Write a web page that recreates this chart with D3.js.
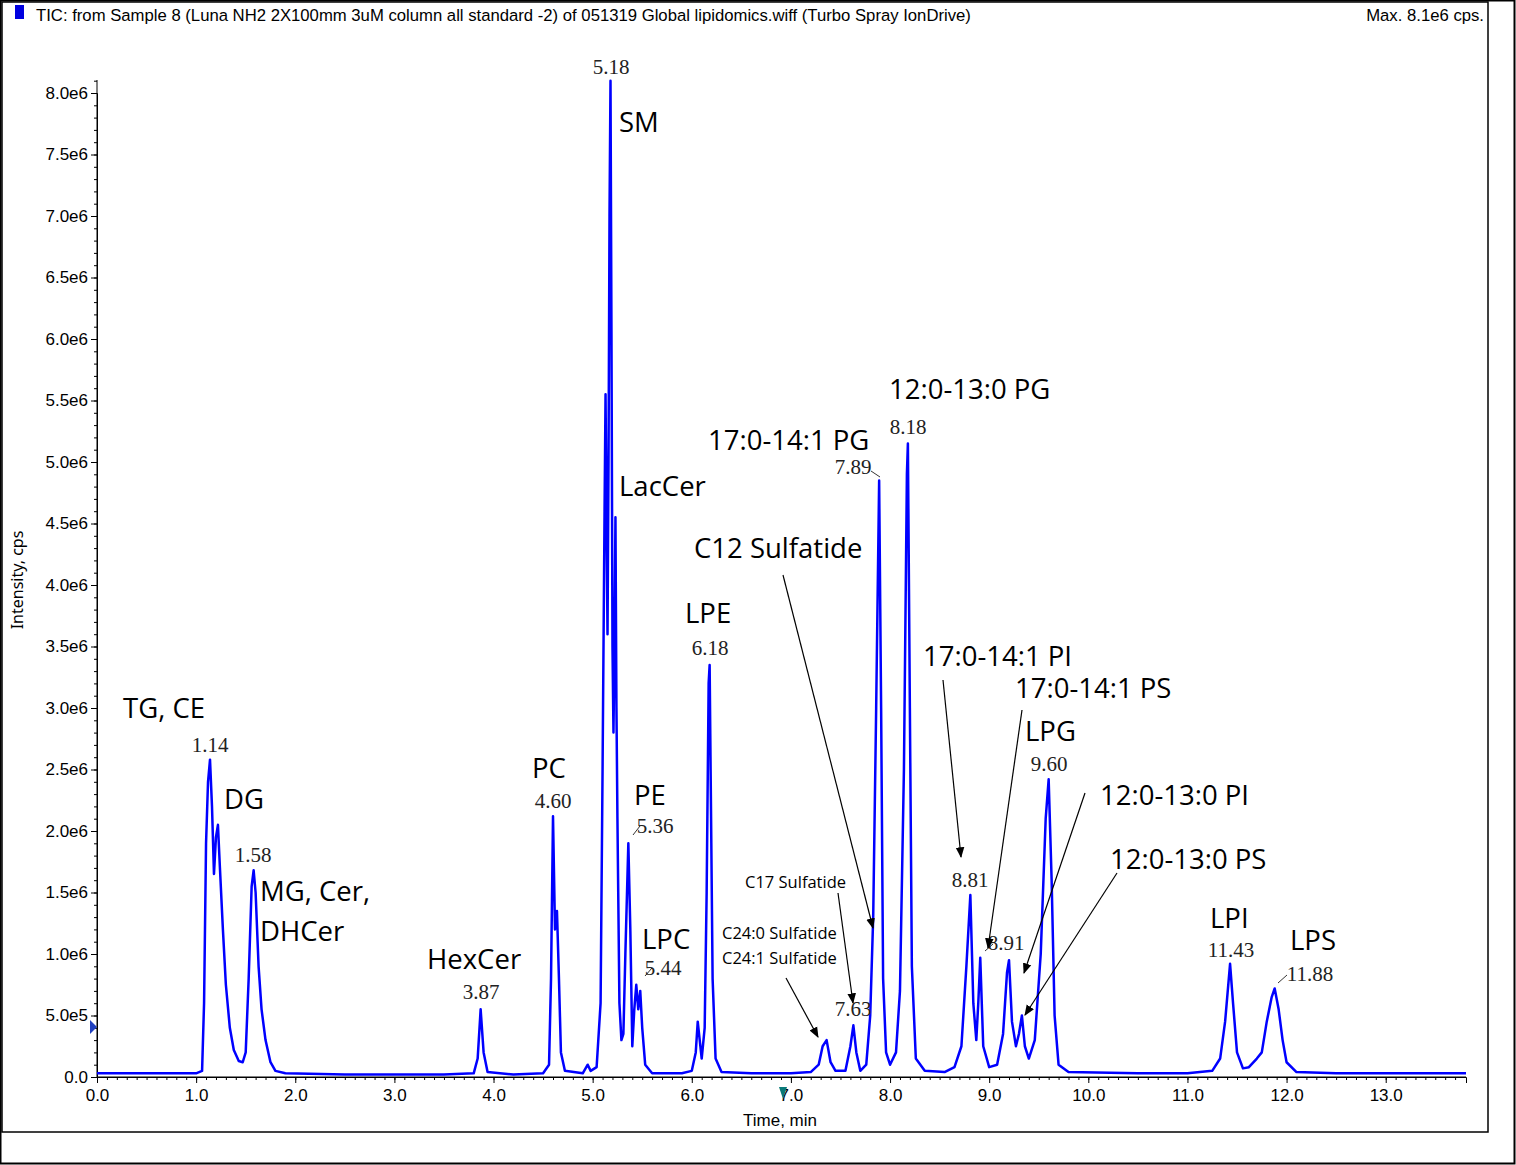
<!DOCTYPE html><html><head><meta charset="utf-8">
<script src="https://cdn.jsdelivr.net/npm/d3@7"></script>
<style>body{margin:0;background:#fff}svg{display:block}</style></head><body>
<script>
const times=[0.0,0.5,1.0,1.06,1.08,1.10,1.12,1.14,1.16,1.18,1.20,1.22,1.24,1.27,1.30,1.34,1.38,1.43,1.47,1.50,1.53,1.56,1.58,1.60,1.63,1.66,1.70,1.75,1.80,1.9,2.5,3.0,3.5,3.80,3.84,3.87,3.90,3.94,4.2,4.5,4.56,4.58,4.60,4.62,4.64,4.66,4.68,4.72,4.9,4.95,4.98,5.04,5.08,5.10,5.12,5.13,5.14,5.15,5.16,5.17,5.18,5.19,5.20,5.21,5.22,5.23,5.24,5.25,5.27,5.29,5.31,5.33,5.36,5.38,5.40,5.42,5.44,5.46,5.48,5.50,5.53,5.6,5.9,6.0,6.04,6.06,6.08,6.10,6.13,6.15,6.17,6.18,6.19,6.21,6.24,6.30,6.6,7.0,7.2,7.28,7.32,7.36,7.40,7.45,7.55,7.60,7.63,7.66,7.70,7.76,7.80,7.83,7.86,7.89,7.91,7.93,7.96,8.00,8.06,8.10,8.14,8.17,8.18,8.20,8.22,8.26,8.35,8.55,8.65,8.72,8.77,8.81,8.84,8.87,8.89,8.91,8.94,9.00,9.08,9.14,9.18,9.20,9.23,9.27,9.30,9.33,9.36,9.40,9.46,9.52,9.57,9.60,9.63,9.66,9.70,9.80,10.5,11.0,11.25,11.33,11.38,11.43,11.46,11.50,11.56,11.62,11.70,11.75,11.80,11.85,11.88,11.92,11.96,12.00,12.10,12.5,13.0,13.81];
const intensity=[.03,.03,.03,.05,.6,1.9,2.4,2.58,2.2,1.65,1.95,2.05,1.7,1.2,.75,.4,.22,.13,.12,.2,.8,1.55,1.68,1.5,.9,.55,.3,.12,.05,.03,.02,.02,.02,.03,.15,.55,.2,.04,.02,.03,.1,.8,2.12,1.2,1.35,.8,.2,.05,.03,.1,.05,.08,.6,2.5,4.6,5.55,4.5,3.6,5.0,7.0,8.1,6.0,3.5,2.8,3.5,4.55,3.0,2.1,.6,.3,.35,1.0,1.9,1.2,.25,.55,.75,.55,.7,.4,.1,.03,.03,.05,.2,.45,.3,.15,.4,1.5,3.2,3.35,2.5,.8,.15,.04,.03,.03,.04,.1,.25,.3,.12,.05,.05,.25,.42,.2,.05,.1,.5,1.3,3.0,4.85,3.0,.8,.2,.1,.2,.7,2.5,4.9,5.15,3.0,.9,.15,.05,.04,.08,.25,.9,1.48,.6,.3,.6,.97,.25,.08,.1,.35,.85,.95,.45,.25,.35,.5,.25,.15,.3,1.0,2.1,2.42,1.6,.5,.1,.04,.03,.03,.05,.15,.45,.92,.6,.2,.07,.08,.15,.2,.45,.65,.72,.55,.3,.12,.04,.03,.03,.03];
const xTicks=[0,1,2,3,4,5,6,7,8,9,10,11,12,13];
const yTicks=[0,0.5,1,1.5,2,2.5,3,3.5,4,4.5,5,5.5,6,6.5,7,7.5,8];
const rtLabels=[["5.18",611,74],["1.14",210,752],["1.58",253,862],["3.87",481,999],["4.60",553,808],["5.36",655,833],["5.44",663,975],["6.18",710,655],["7.63",853,1016],["7.89",853,474],["8.18",908,434],["8.81",970,887],["8.91",1006,950],["9.60",1049,771],["11.43",1231,957],["11.88",1310,981]];
const nameLabels=[["SM",619,132],["LacCer",619,496],["TG, CE",123,718],["DG",224,809],["MG, Cer,",260,901],["DHCer",260,941],["HexCer",427,969],["PC",532,778],["PE",634,805],["LPC",642,949],["LPE",685,623],["C12 Sulfatide",694,558],["17:0-14:1 PG",708,450],["12:0-13:0 PG",889,399],["17:0-14:1 PI",923,666],["17:0-14:1 PS",1015,698],["LPG",1025,741],["12:0-13:0 PI",1100,805],["12:0-13:0 PS",1110,869],["LPI",1210,928],["LPS",1290,950]];
const smallLabels=[["C17 Sulfatide",745,888],["C24:0 Sulfatide",722,939],["C24:1 Sulfatide",722,964]];
const arrows=[[783,575,873,928],[838,893,853,1003],[786,978,818,1037],[943,680,961,857],[1022,710,988,948],[1085,793,1024,973],[1117,873,1025,1015]];
const leaders=[[633,835,640,826],[645,976,652,968],[880,477,871,471],[985,951,993,944],[1278,983,1287,975]];

const svg=d3.select("body").append("svg").attr("width",1516).attr("height",1165);
svg.append("rect").attr("x",0.5).attr("y",0.5).attr("width",1514).attr("height",1163).attr("fill","none").attr("stroke","#000").attr("stroke-width",2);
svg.append("rect").attr("x",2).attr("y",2).attr("width",1486).attr("height",1130).attr("fill","none").attr("stroke","#000").attr("stroke-width",1.5);
svg.append("rect").attr("x",15).attr("y",5).attr("width",9).attr("height",14).attr("fill","#0000e0");
const nar="'Liberation Sans Narrow','Liberation Sans',Arial,sans-serif";
svg.append("text").attr("x",36).attr("y",21).attr("font-family",nar).attr("font-size",16.7).text("TIC: from Sample 8 (Luna NH2 2X100mm 3uM column all standard -2) of 051319 Global lipidomics.wiff (Turbo Spray IonDrive)");
svg.append("text").attr("x",1484).attr("y",21).attr("text-anchor","end").attr("font-family",nar).attr("font-size",16.7).text("Max. 8.1e6 cps.");

const x=d3.scaleLinear().domain([0,13.81]).range([97,1466]);
const y=d3.scaleLinear().domain([0,8]).range([1077,93]);
const gx=svg.append("g").attr("transform","translate(0,1077)").call(d3.axisBottom(x).tickValues(xTicks).tickFormat(d3.format(".1f")).tickSize(6));
const gxm=svg.append("g").attr("transform","translate(0,1077)").call(d3.axisBottom(x).tickValues(d3.range(0,138).map(i=>i/10)).tickFormat("").tickSize(3));
const gy=svg.append("g").attr("transform","translate(97,0)").call(d3.axisLeft(y).tickValues(yTicks).tickFormat(d=>d===0?"0.0":(d>=1?d.toFixed(1)+"e6":(d*10).toFixed(1)+"e5")).tickSize(6));
const gym=svg.append("g").attr("transform","translate(97,0)").call(d3.axisLeft(y).tickValues(d3.range(0,82).map(i=>i/10)).tickFormat("").tickSize(3));
[gx,gy].forEach(g=>g.selectAll("text").attr("font-family",nar).attr("font-size",17).attr("fill","#000"));
gx.selectAll("text").attr("dy","0.9em");
[gx,gy,gxm,gym].forEach(g=>g.selectAll("line,path").attr("stroke","#000"));
gym.select("path").remove();gxm.select("path").remove();
svg.append("line").attr("x1",97).attr("x2",97).attr("y1",80).attr("y2",1077).attr("stroke","#000");
svg.append("line").attr("x1",97).attr("x2",1466).attr("y1",1077).attr("y2",1077).attr("stroke","#000");
svg.append("text").attr("x",780).attr("y",1126).attr("text-anchor","middle").attr("font-family",nar).attr("font-size",17).text("Time, min");
svg.append("text").attr("transform","translate(23,580) rotate(-90)").attr("text-anchor","middle").attr("font-family","'Noto Sans',sans-serif").attr("font-size",16).text("Intensity, cps");
svg.append("path").attr("d","M90,1020 L97,1027 L90,1034Z").attr("fill","#2040c0");
svg.append("path").attr("d","M779,1087 L787,1087 L783,1099Z").attr("fill","#0a7a7a");

const line=d3.line().x((d,i)=>x(times[i])).y(d=>y(d));
svg.append("path").datum(intensity).attr("d",line).attr("fill","none").attr("stroke","#0000ff").attr("stroke-width",2.5).attr("stroke-linejoin","round");

svg.selectAll(".rt").data(rtLabels).enter().append("text").attr("x",d=>d[1]).attr("y",d=>d[2]).attr("text-anchor","middle").attr("font-family","'Liberation Serif',serif").attr("font-size",21).attr("fill","#222").text(d=>d[0]);
svg.selectAll(".nm").data(nameLabels).enter().append("text").attr("x",d=>d[1]).attr("y",d=>d[2]).attr("font-family","'Open Sans',sans-serif").attr("font-size",27.5).text(d=>d[0]);
svg.selectAll(".sm").data(smallLabels).enter().append("text").attr("x",d=>d[1]).attr("y",d=>d[2]).attr("font-family","'Open Sans',sans-serif").attr("font-size",16.5).text(d=>d[0]);
svg.append("defs").append("marker").attr("id","ah").attr("viewBox","0 0 10 10").attr("refX",9).attr("refY",5).attr("markerWidth",9).attr("markerHeight",9).attr("orient","auto").append("path").attr("d","M0,1 L10,5 L0,9Z").attr("fill","#000");
svg.selectAll(".ar").data(arrows).enter().append("line").attr("x1",d=>d[0]).attr("y1",d=>d[1]).attr("x2",d=>d[2]).attr("y2",d=>d[3]).attr("stroke","#000").attr("stroke-width",1.2).attr("marker-end","url(#ah)");
svg.selectAll(".ld").data(leaders).enter().append("line").attr("x1",d=>d[0]).attr("y1",d=>d[1]).attr("x2",d=>d[2]).attr("y2",d=>d[3]).attr("stroke","#000").attr("stroke-width",0.8);
</script></body></html>
